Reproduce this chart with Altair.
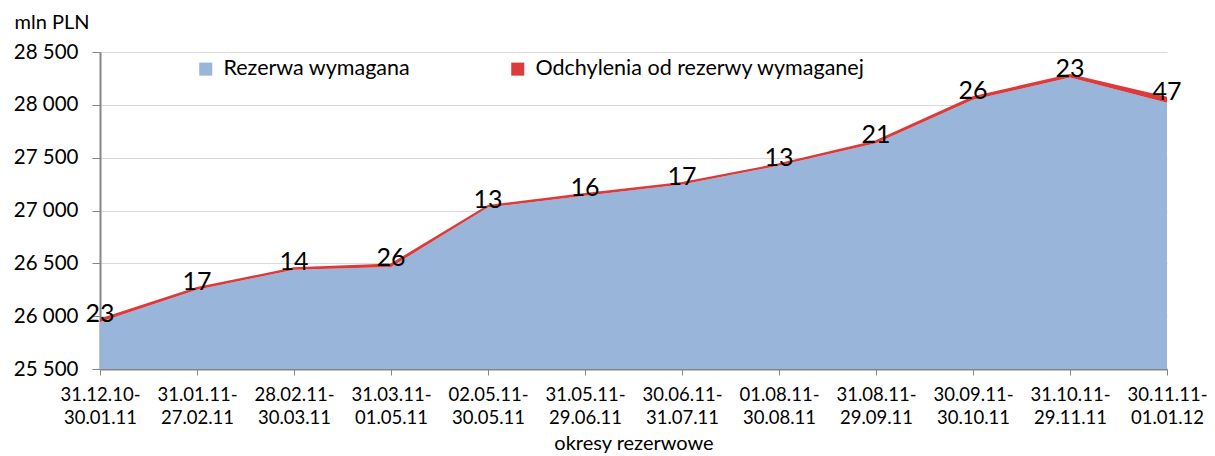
import altair as alt
import pandas as pd

periods = ["31.12.10-30.01.11", "31.01.11-27.02.11", "28.02.11-30.03.11", "31.03.11-01.05.11",
           "02.05.11-30.05.11", "31.05.11-29.06.11", "30.06.11-31.07.11", "01.08.11-30.08.11",
           "31.08.11-29.09.11", "30.09.11-30.10.11", "31.10.11-29.11.11", "30.11.11-01.01.12"]
rezerwa = [25945, 26250, 26440, 26465, 27030, 27140, 27245, 27425, 27636, 28048, 28259, 28020]
odchylenia = [23, 17, 14, 26, 13, 16, 17, 13, 21, 26, 23, 47]
series_names = ["Rezerwa wymagana", "Odchylenia od rezerwy wymaganej"]
colors = ["#9AB5DA", "#DC3B3B"]
y_ticks = [25500, 26000, 26500, 27000, 27500, 28000, 28500]

rows = []
for i, p in enumerate(periods):
    rows.append({"okres": p, "seria": series_names[0], "wartosc": rezerwa[i], "kol": 0})
    rows.append({"okres": p, "seria": series_names[1], "wartosc": odchylenia[i], "kol": 1})
long_df = pd.DataFrame(rows)
lab_df = pd.DataFrame({"okres": periods, "rez": rezerwa, "odch": odchylenia})
lab_df["suma"] = lab_df["rez"] + lab_df["odch"]

FONT = "Lato"
AX = "#868686"

x_enc = alt.X(
    "okres:O", sort=periods,
    scale=alt.Scale(type="point", padding=0),
    axis=alt.Axis(
        title="okresy rezerwowe", labelAngle=0,
        labelExpr="[split(datum.value,'-')[0] + '-', split(datum.value,'-')[1]]",
        labelFontSize=18.5, labelLineHeight=23, labelPadding=10, labelFont=FONT, labelColor="#000",
        tickSize=6, tickColor=AX, domainColor=AX, domainWidth=2,
        titleFontSize=20, titleFont=FONT, titleFontWeight="normal", titleColor="#000",
        titleY=74, titleBaseline="middle", grid=False,
    ),
)
y_scale = alt.Scale(domain=[25500, 28500], zero=False, nice=False)
y_axis = alt.Axis(
    values=y_ticks, title="mln PLN", titleAngle=0, titleX=-86, titleY=-30,
    titleAlign="left", titleBaseline="middle", titleFontSize=20, titleFont=FONT,
    titleFontWeight="normal", titleColor="#000",
    labelExpr="replace(format(datum.value, ','), ',', ' ')",
    labelFontSize=20.5, labelFont=FONT, labelColor="#000", labelPadding=14,
    tickSize=8, tickColor=AX, domainColor=AX, domainWidth=2,
    grid=True, gridColor="#D9D9D9",
)

area = alt.Chart(long_df).mark_area(clip=True, opacity=1).encode(
    x=x_enc,
    y=alt.Y("wartosc:Q", stack="zero", scale=y_scale, axis=y_axis),
    color=alt.Color(
        "seria:N",
        scale=alt.Scale(domain=series_names, range=colors),
        sort=series_names,
        legend=alt.Legend(
            orient="none", legendX=95, legendY=6, direction="horizontal", title=None,
            symbolType="square", symbolSize=170, symbolStrokeWidth=0, symbolOpacity=1,
            labelFontSize=21.5, labelFont=FONT, labelColor="#000", columnPadding=96,
            labelLimit=500, labelOffset=7,
        ),
    ),
    order=alt.Order("kol:Q"),
)

top_line = alt.Chart(lab_df).mark_line(color=colors[1], strokeWidth=1.8, clip=True).encode(
    x=alt.X("okres:O", sort=periods),
    y=alt.Y("suma:Q"),
)

labels = alt.Chart(lab_df).mark_text(
    fontSize=25, font=FONT, color="#000", baseline="middle", align="center", dy=-6
).encode(
    x=alt.X("okres:O", sort=periods),
    y=alt.Y("suma:Q"),
    text=alt.Text("odch:Q"),
)

chart = alt.layer(area, top_line, labels).properties(
    width=1067, height=317,
    autosize=alt.AutoSizeParams(type="none"),
    padding={"left": 92, "top": 44, "right": 40, "bottom": 84},
).configure_view(stroke=None)

chart.save("out.html", embed_options={"renderer": "svg", "actions": False})
